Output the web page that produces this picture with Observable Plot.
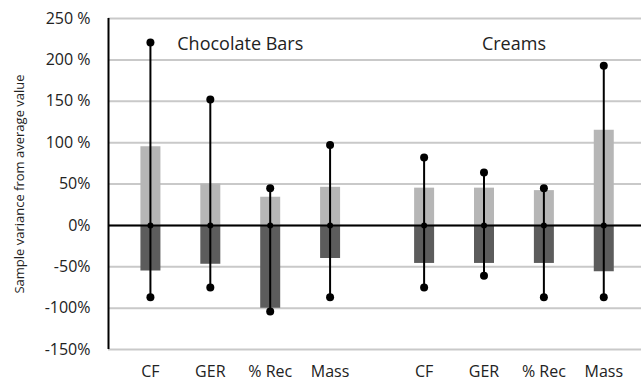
<!DOCTYPE html>
<html>
<head>
<meta charset="utf-8">
<script src="https://cdn.jsdelivr.net/npm/d3@7"></script>
<script src="https://cdn.jsdelivr.net/npm/@observablehq/plot@0.6"></script>
<style>
  html, body { margin: 0; padding: 0; background: #fff; }
  #chart { width: 641px; height: 385px; }
</style>
</head>
<body>
<div id="chart"></div>
<script>
const groups = ["Chocolate Bars", "Creams"];
const params = ["CF", "GER", "% Rec", "Mass"];
const upperValues = [[95, 50, 34, 46], [45, 45, 42, 115]];
const lowerValues = [[-55, -47, -100, -40], [-46, -46, -46, -56]];
const maxValues = [[221, 152, 45, 97], [82, 64, 45, 193]];
const minValues = [[-87, -75, -104, -87], [-75, -61, -87, -87]];
const yTicks = [250, 200, 150, 100, 50, 0, -50, -100, -150];
const yTickLabels = ["250 %", "200 %", "150 %", "100 %", "50%", "0%", "-50%", "-100%", "-150%"];
const yTitle = "Sample variance from average value";

const groupGap = 0.57;
const rows = [];
groups.forEach((g, gi) => {
  params.forEach((p, i) => {
    rows.push({
      group: g, param: p,
      pos: gi * (params.length + groupGap) + i,
      upper: upperValues[gi][i], lower: lowerValues[gi][i],
      max: maxValues[gi][i], min: minValues[gi][i]
    });
  });
});
const groupCenters = groups.map((g, gi) => ({group: g, pos: gi * (params.length + groupGap) + (params.length - 1) / 2}));
const xDomain = [-0.7, 8.2];

const chart = Plot.plot({
  width: 641,
  height: 385,
  marginLeft: 108,
  marginRight: 0,
  marginTop: 18,
  marginBottom: 36,
  style: {fontFamily: "'Open Sans', sans-serif", fontSize: "16px", color: "#222", background: "#fff"},
  x: {domain: xDomain, axis: null},
  y: {domain: [-150, 250], axis: null},
  marks: [
    Plot.ruleY(yTicks, {stroke: "#c9c9c9", strokeWidth: 2}),
    Plot.axisY({ticks: yTicks, tickFormat: d => yTickLabels[yTicks.indexOf(d)], tickSize: 0, tickPadding: 18, label: null, fontSize: 16}),
    Plot.ruleX(rows, {x: "pos", y1: 0, y2: "upper", stroke: "#b6b6b6", strokeWidth: 20}),
    Plot.ruleX(rows, {x: "pos", y1: 0, y2: "lower", stroke: "#5c5c5c", strokeWidth: 20}),
    Plot.ruleY([0], {stroke: "#000", strokeWidth: 2}),
    Plot.ruleX([xDomain[0]], {stroke: "#000", strokeWidth: 2}),
    Plot.ruleX(rows, {x: "pos", y1: "min", y2: "max", stroke: "#000", strokeWidth: 2}),
    Plot.dot(rows, {x: "pos", y: "max", r: 4, fill: "#000"}),
    Plot.dot(rows, {x: "pos", y: "min", r: 4, fill: "#000"}),
    Plot.dot(rows, {x: "pos", y: () => 0, r: 3, fill: "#000"}),
    Plot.text(rows, {x: "pos", text: "param", frameAnchor: "bottom", dy: 27, fontSize: 16, fill: "#222"}),
    Plot.text(groupCenters, {x: "pos", text: "group", frameAnchor: "top", dy: 19, fontSize: 18, fill: "#222"}),
    Plot.text([yTitle], {text: d => d, frameAnchor: "left", textAnchor: "middle", dx: -89, rotate: -90, fontSize: 13, fill: "#222"})
  ]
});
document.getElementById("chart").appendChild(chart);
</script>
</body>
</html>
